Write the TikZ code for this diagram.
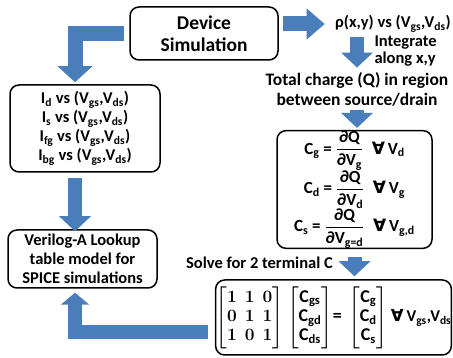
\documentclass[tikz,border=0pt]{standalone}
\usepackage{amsmath}
\usepackage[no-math]{fontspec}
\setmainfont{Carlito}
\newfontfamily\dejavu{DejaVu Sans}
\usetikzlibrary{arrows.meta}
\definecolor{arrowblue}{HTML}{4A7EBB}
\newcommand{\sub}[1]{\textsubscript{#1}}
\newcommand{\fa}{{\dejavu\bfseries ∀}}
\newcommand{\pfrac}[2]{\genfrac{}{}{1.2pt}{0}{\text{#1}}{\text{#2}}}
\newsavebox{\matbox}

\begin{document}
\sbox{\matbox}{\fontsize{18}{21}\selectfont\bfseries\boldmath\renewcommand{\arraystretch}{0.92}%
  $\setlength{\arraycolsep}{4pt}\begin{bmatrix}1&1&0\\0&1&1\\1&0&1\end{bmatrix}
  \setlength{\arraycolsep}{1.5pt}\begin{bmatrix}\text{C\sub{gs}}\\\text{C\sub{gd}}\\\text{C\sub{ds}}\end{bmatrix}\!\text{=}\,
  \begin{bmatrix}\text{C\sub{g}}\\\text{C\sub{d}}\\\text{C\sub{s}}\end{bmatrix}$%
  {\fontsize{16.5}{19}\selectfont\,\fa\,V\sub{gs},V\sub{ds}}}
\begin{tikzpicture}[x=1pt,y=-1pt,font=\fontsize{16.5}{19}\selectfont\bfseries,
  box/.style={draw, line width=1.5pt, rounded corners=9pt, align=center, inner sep=0pt},
  blockarrow/.style={line width=14pt, draw=arrowblue, line join=miter, -{Triangle[width=31pt,length=15pt]}}]
\useasboundingbox (0,0) rectangle (453,358);

\node[box, minimum width=148pt, minimum height=53pt, font=\fontsize{19.5}{22}\selectfont\bfseries] (dev) at (204,33.5) {Device\\Simulation};
\node (rho) at (393,24) {ρ(x,y) vs (V\sub{gs},V\sub{ds})};
\node[anchor=west, align=left, font=\fontsize{16.5}{17.5}\selectfont\bfseries] (integ) at (371,51) {Integrate\\along x,y};
\node[align=center, font=\fontsize{17.5}{20}\selectfont\bfseries] (tot) at (357,89) {Total charge (Q) in region\\between source/drain};
\node[box, minimum width=155pt, minimum height=115pt, font=\fontsize{17}{19}\selectfont\bfseries] (cbox) at (354.5,189.5) {%
  C\sub{g} = $\pfrac{∂Q}{∂V\sub{g}}$\enspace\fa\,V\sub{d}\\[-1pt]
  C\sub{d} = $\pfrac{∂Q}{∂V\sub{d}}$\enspace\fa\,V\sub{g}\\[-1pt]
  C\sub{s} = $\pfrac{∂Q}{∂V\sub{g=d}}$\enspace\fa\,V\sub{g,d}};
\node (solve) at (259.5,263) {Solve for 2 terminal C};
\node[box, minimum width=233pt, minimum height=75pt] (mat) at (333.5,317.5) {\usebox{\matbox}};
\node[box, minimum width=150pt, minimum height=87pt] (ivs) at (85,128.5) {%
  I\sub{d} vs (V\sub{gs},V\sub{ds})\\
  I\sub{s} vs (V\sub{gs},V\sub{ds})\\
  I\sub{fg} vs (V\sub{gs},V\sub{ds})\\
  I\sub{bg} vs (V\sub{gs},V\sub{ds})};
\node[box, minimum width=149pt, minimum height=58pt] (veri) at (82.5,259) {Verilog-A Lookup\\table model for\\SPICE simulations};

\draw[blockarrow, line width=15pt, -{Triangle[width=34pt,length=16pt]}, shorten <=5pt, shorten >=2pt] (dev.west) -| ([xshift=-10pt]ivs.north);
\draw[blockarrow, line width=15pt, -{Triangle[width=30pt,length=18pt]}, shorten <=4pt, shorten >=7pt] (dev.east |- rho.west) -- (rho.west);
\draw[blockarrow, shorten <=1pt, shorten >=1pt] (rho.south -| tot.north) -- (tot.north);
\draw[blockarrow, shorten <=1pt, shorten >=2pt] (tot.south) -- (tot.south |- cbox.north);
\draw[blockarrow, shorten <=8pt, shorten >=3pt] (cbox.south) -- (cbox.south |- mat.north);
\draw[blockarrow, shorten <=5pt, shorten >=-2pt] ([xshift=-10pt]ivs.south) -- ([xshift=-10pt]ivs.south |- veri.north);
\draw[blockarrow, -{Triangle[width=28pt,length=12pt]}, shorten <=7pt, shorten >=4pt] ([yshift=-15pt]mat.west) -| ([xshift=-7.5pt]veri.south);
\end{tikzpicture}
\end{document}
